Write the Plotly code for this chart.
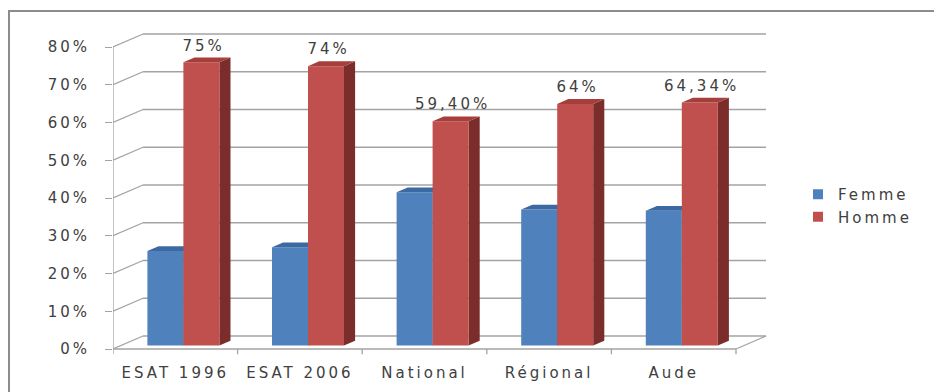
import plotly.graph_objects as go

# ---- data -------------------------------------------------------------
categories = ["ESAT 1996", "ESAT 2006", "National", "Régional", "Aude"]
femme = [25, 26, 40.6, 36, 35.66]
homme = [75, 74, 59.4, 64, 64.34]
homme_labels = ["75%", "74%", "59,40%", "64%", "64,34%"]
y_ticks = [0, 10, 20, 30, 40, 50, 60, 70, 80]
y_tick_labels = [f"{v}%" for v in y_ticks]

# ---- layout geometry (pixels) ------------------------------------------
W_PX, H_PX = 934, 392
PLOT_L, PLOT_R, PLOT_T, PLOT_B = 113, 790, 20, 358
ZERO_Y = 349                     # pixel row of the 0% front edge
PX_PER_CAT = 124.6               # pixels per category
PX_PER_PCT = 3.775               # pixels per percentage point

x_range = [0, (PLOT_R - PLOT_L) / PX_PER_CAT]
y_range = [-(PLOT_B - ZERO_Y) / PX_PER_PCT, (ZERO_Y - PLOT_T) / PX_PER_PCT]

# oblique depth of the 3D box, in data units
DX = 30 / PX_PER_CAT
DY = 13 / PX_PER_PCT
D1, D2 = 0.27, 0.64              # front and back depth of the bars
BAR_W = 36 / PX_PER_CAT

GRID = "#a3a3a3"
FONT = dict(family="DejaVu Sans", size=15, color="#404040")

fig = go.Figure()


def add_lines(segments, color=GRID, width=1.3):
    xs, ys = [], []
    for (xa, ya), (xb, yb) in segments:
        xs += [xa, xb, None]
        ys += [ya, yb, None]
    fig.add_trace(go.Scatter(x=xs, y=ys, mode="lines",
                             line=dict(color=color, width=width),
                             hoverinfo="skip", showlegend=False))


n = len(categories)
top_v = y_ticks[-1]

# back wall gridlines and left wall diagonals
segs = []
for v in y_ticks:
    segs.append(((DX, v + DY), (n + DX, v + DY)))
    segs.append(((0, v), (DX, v + DY)))
# front value axis, floor edges and category tick marks
segs.append(((0, 0), (0, top_v)))
segs.append(((0, 0), (n, 0)))
segs.append(((n, 0), (n + DX, DY)))
for i in range(n + 1):
    segs.append(((i, 0), (i, -1.4)))
add_lines(segs)


def add_poly(polys, color):
    xs, ys = [], []
    for p in polys:
        xs += [pt[0] for pt in p] + [p[0][0], None]
        ys += [pt[1] for pt in p] + [p[0][1], None]
    fig.add_trace(go.Scatter(x=xs, y=ys, mode="lines", fill="toself",
                             fillcolor=color, line=dict(width=0, color=color),
                             hoverinfo="skip", showlegend=False))


series = [
    (femme, ("#4F81BD", "#3C69A1", "#2D4E78")),
    (homme, ("#C0504D", "#A63E3B", "#7A2D2B")),
]
T = D2 - D1
label_pos = []
for s, (vals, (c_front, c_top, c_side)) in enumerate(series):
    fronts, tops, sides = [], [], []
    for i, v in enumerate(vals):
        x0 = i + 0.5 - BAR_W + s * BAR_W + D1 * DX
        x1 = x0 + BAR_W
        y0 = D1 * DY
        y1 = v + D1 * DY
        fronts.append([(x0, y0), (x1, y0), (x1, y1), (x0, y1)])
        tops.append([(x0, y1), (x1, y1), (x1 + T * DX, y1 + T * DY),
                     (x0 + T * DX, y1 + T * DY)])
        sides.append([(x1, y0), (x1 + T * DX, y0 + T * DY),
                      (x1 + T * DX, y1 + T * DY), (x1, y1)])
        if s == 1:
            label_pos.append(((x0 + x1) / 2, v + D2 * DY))
    add_poly(sides, c_side)
    add_poly(fronts, c_front)
    add_poly(tops, c_top)

# legend entries
for name, col in [("Femme", "#4F81BD"), ("Homme", "#C0504D")]:
    fig.add_trace(go.Scatter(x=[None], y=[None], mode="markers", name=name,
                             marker=dict(symbol="square", size=10, color=col)))

# value labels above the Homme bars
for (xc, ytop), txt in zip(label_pos, homme_labels):
    fig.add_annotation(x=xc, y=ytop, text=txt, showarrow=False,
                       yanchor="bottom", yshift=1, xshift=2, font=FONT)

pw = PLOT_R - PLOT_L
ph = PLOT_B - PLOT_T
# outer frame of the chart area
fig.add_shape(type="rect", xref="paper", yref="paper",
              x0=(9 - PLOT_L) / pw, x1=(W_PX + 10 - PLOT_L) / pw,
              y0=(PLOT_B - H_PX - 10) / ph, y1=(PLOT_B - 11) / ph,
              line=dict(color="#8c8c8c", width=2))

fig.update_layout(
    width=W_PX, height=H_PX, autosize=False,
    margin=dict(l=PLOT_L, r=W_PX - PLOT_R, t=PLOT_T, b=H_PX - PLOT_B,
                autoexpand=False),
    paper_bgcolor="white", plot_bgcolor="white",
    font=FONT,
    xaxis=dict(range=x_range, tickvals=[i + 0.5 for i in range(n)],
               ticktext=categories, showgrid=False, zeroline=False,
               showline=False, ticks="", ticklabelstandoff=4,
               automargin=False, fixedrange=True),
    yaxis=dict(range=y_range, tickvals=y_ticks, ticktext=y_tick_labels,
               showgrid=False, zeroline=False, showline=False,
               ticks="outside", ticklen=7, tickcolor=GRID,
               ticklabelstandoff=12, automargin=False, fixedrange=True),
    legend=dict(x=(798 - PLOT_L) / pw, xanchor="left",
                y=(PLOT_B - 178) / ph, yanchor="top",
                font=FONT, bgcolor="rgba(0,0,0,0)", tracegroupgap=0),
    showlegend=True,
)

# widen the lettering of all chart text
spacing_js = """
var gd = document.getElementById('{plot_id}');
function spreadText() {
  gd.querySelectorAll('text').forEach(function (t) {
    t.style.letterSpacing = '3px';
  });
  gd.querySelectorAll('.legend [clip-path]').forEach(function (el) {
    el.removeAttribute('clip-path');
  });
}
spreadText();
gd.on('plotly_afterplot', spreadText);
"""

fig.write_html("out.html", post_script=spacing_js)
